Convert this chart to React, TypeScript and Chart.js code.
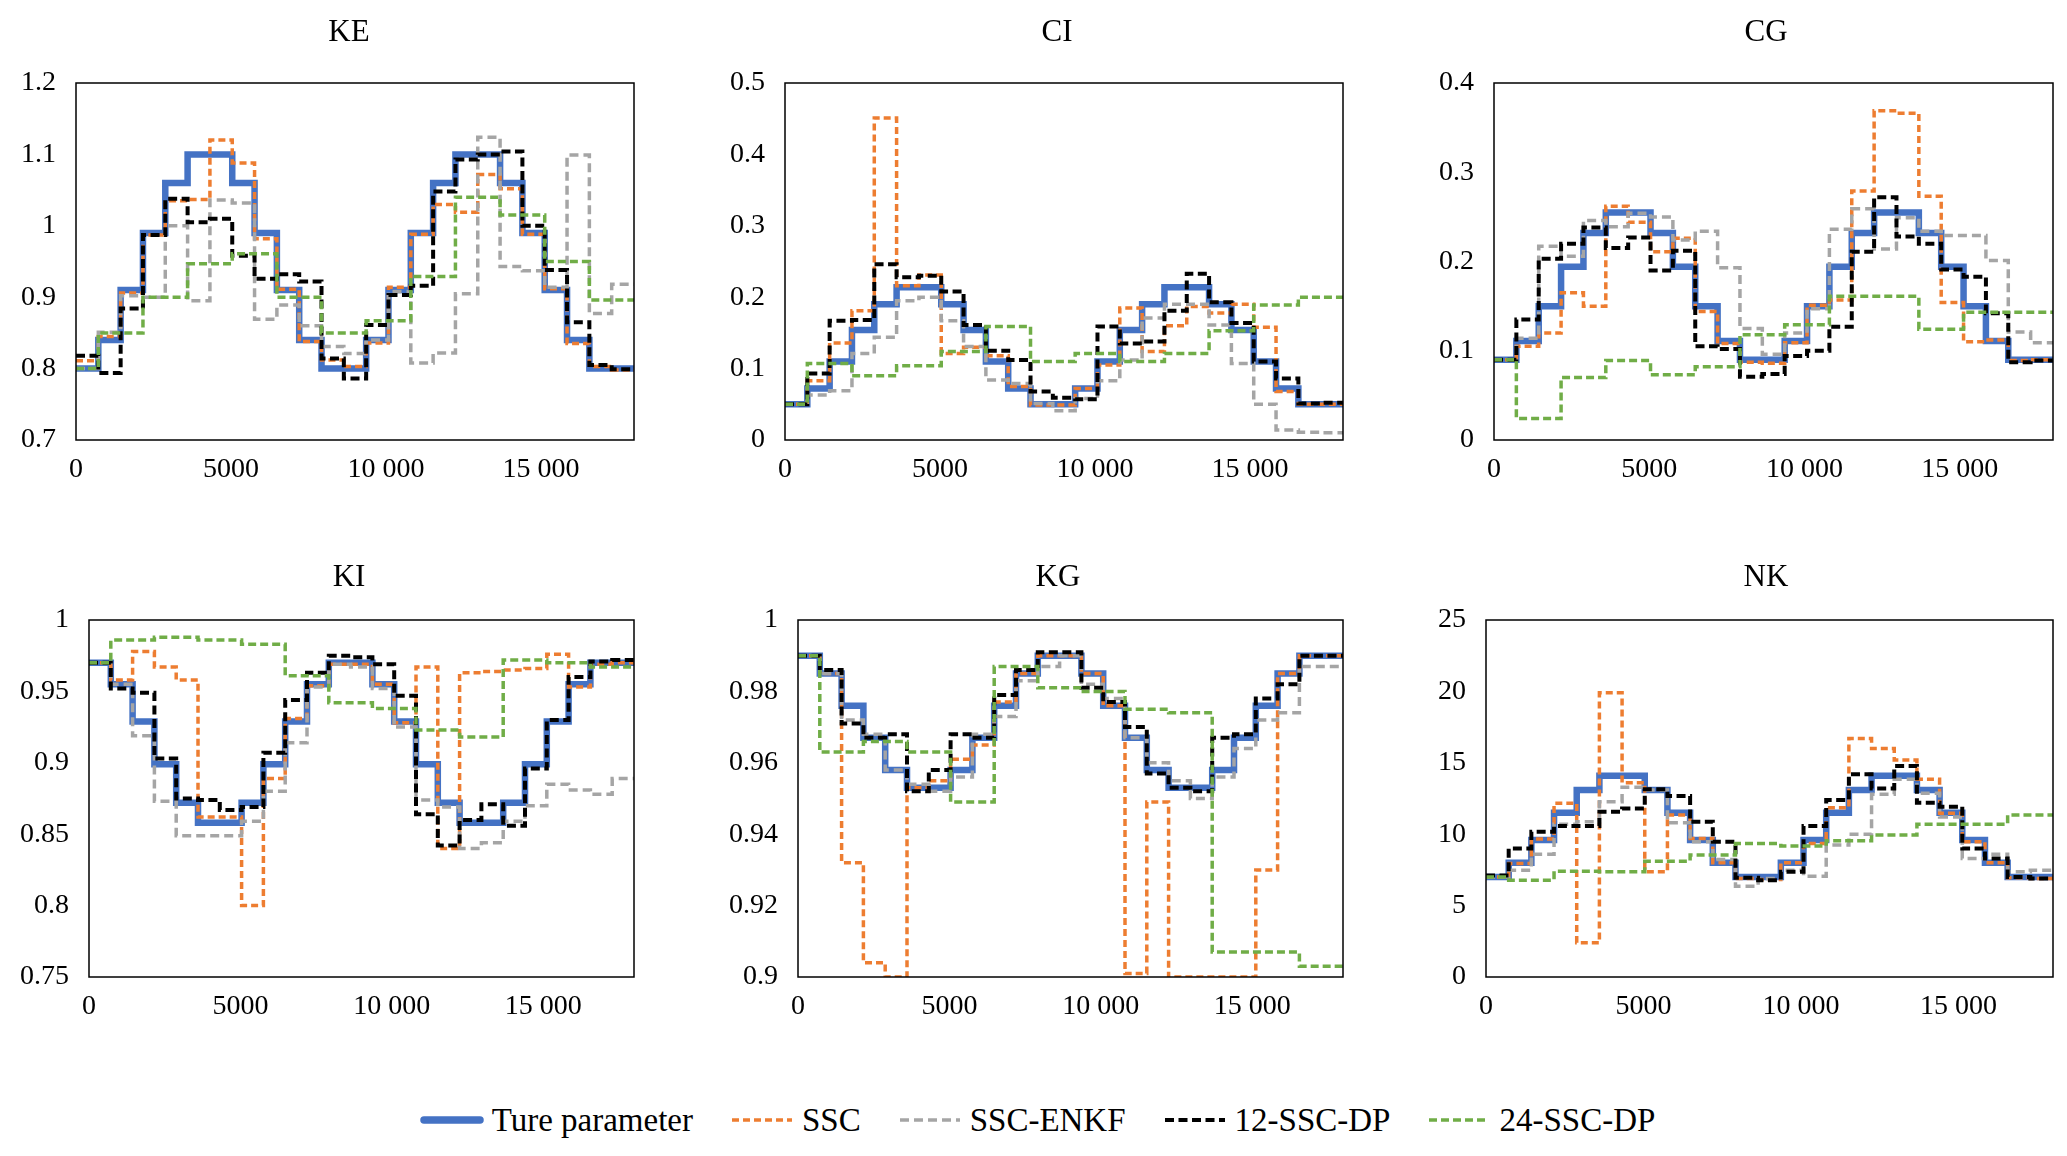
import { useEffect, useRef } from "react"
import { Chart, registerables } from "chart.js"

Chart.register(...registerables)

const FONT = '"Liberation Serif", "Times New Roman", serif'
Chart.defaults.font.family = FONT
Chart.defaults.color = "#000"

// x axis: 25 control intervals of 720 s
const STEP = 720
const X_MAX = 18000
const X_TICKS = [0, 5000, 10000, 15000]

// ---- KE ----
const KE_Y_TICKS = [0.7, 0.8, 0.9, 1, 1.1, 1.2]
const KE_TRUE = [0.8, 0.84, 0.91, 0.99, 1.06, 1.1, 1.1, 1.06, 0.99, 0.91, 0.84, 0.8, 0.8, 0.84, 0.91, 0.99, 1.06, 1.1, 1.1, 1.06, 0.99, 0.91, 0.84, 0.8, 0.8]
const KE_SSC = [0.811, 0.845, 0.906, 0.987, 1.035, 1.037, 1.12, 1.088, 0.982, 0.911, 0.838, 0.812, 0.803, 0.836, 0.914, 0.988, 1.03, 1.019, 1.072, 1.052, 0.988, 0.912, 0.835, 0.803, 0.798]
const KE_ENKF = [0.8, 0.851, 0.902, 0.9, 1.0, 0.895, 1.036, 1.032, 0.869, 0.889, 0.86, 0.831, 0.821, 0.84, 0.908, 0.808, 0.822, 0.905, 1.124, 0.943, 0.937, 0.914, 1.099, 0.877, 0.918]
const KE_DP12 = [0.818, 0.794, 0.884, 0.987, 1.038, 1.005, 1.01, 0.958, 0.926, 0.932, 0.922, 0.814, 0.786, 0.861, 0.903, 0.916, 1.048, 1.093, 1.1, 1.104, 1.0, 0.938, 0.865, 0.805, 0.799]
const KE_DP24 = [0.8, 0.85, 0.85, 0.9, 0.9, 0.947, 0.947, 0.961, 0.961, 0.9, 0.9, 0.85, 0.85, 0.867, 0.867, 0.929, 0.929, 1.04, 1.04, 1.015, 1.015, 0.95, 0.95, 0.896, 0.896]

// ---- CI ----
const CI_Y_TICKS = [0, 0.1, 0.2, 0.3, 0.4, 0.5]
const CI_TRUE = [0.05, 0.072, 0.11, 0.154, 0.19, 0.214, 0.214, 0.19, 0.154, 0.11, 0.072, 0.05, 0.05, 0.072, 0.11, 0.154, 0.19, 0.214, 0.214, 0.19, 0.154, 0.11, 0.072, 0.05, 0.05]
const CI_SSC = [0.05, 0.083, 0.136, 0.181, 0.451, 0.216, 0.231, 0.121, 0.13, 0.118, 0.075, 0.049, 0.049, 0.072, 0.105, 0.185, 0.124, 0.16, 0.187, 0.178, 0.19, 0.158, 0.068, 0.05, 0.05]
const CI_ENKF = [0.05, 0.063, 0.069, 0.121, 0.144, 0.195, 0.2, 0.167, 0.131, 0.084, 0.079, 0.051, 0.041, 0.058, 0.083, 0.112, 0.171, 0.19, 0.19, 0.161, 0.107, 0.05, 0.014, 0.011, 0.01]
const CI_DP12 = [0.05, 0.093, 0.167, 0.168, 0.246, 0.228, 0.23, 0.208, 0.161, 0.125, 0.112, 0.068, 0.059, 0.057, 0.159, 0.135, 0.138, 0.181, 0.233, 0.193, 0.164, 0.11, 0.086, 0.051, 0.052]
const CI_DP24 = [0.05, 0.107, 0.107, 0.09, 0.09, 0.104, 0.104, 0.124, 0.124, 0.159, 0.159, 0.11, 0.11, 0.121, 0.121, 0.11, 0.11, 0.121, 0.121, 0.153, 0.153, 0.189, 0.189, 0.2, 0.2]

// ---- CG ----
const CG_Y_TICKS = [0, 0.1, 0.2, 0.3, 0.4]
const CG_TRUE = [0.09, 0.111, 0.15, 0.194, 0.232, 0.255, 0.255, 0.232, 0.194, 0.15, 0.111, 0.09, 0.09, 0.111, 0.15, 0.194, 0.232, 0.255, 0.255, 0.232, 0.194, 0.15, 0.111, 0.09, 0.09]
const CG_SSC = [0.09, 0.105, 0.12, 0.165, 0.15, 0.262, 0.244, 0.211, 0.226, 0.144, 0.108, 0.087, 0.086, 0.109, 0.151, 0.157, 0.279, 0.369, 0.366, 0.273, 0.154, 0.11, 0.112, 0.089, 0.09]
const CG_ENKF = [0.09, 0.114, 0.217, 0.206, 0.246, 0.239, 0.254, 0.25, 0.224, 0.234, 0.193, 0.125, 0.096, 0.12, 0.147, 0.236, 0.259, 0.214, 0.249, 0.234, 0.229, 0.229, 0.201, 0.121, 0.109]
const CG_DP12 = [0.09, 0.135, 0.203, 0.22, 0.238, 0.215, 0.227, 0.19, 0.212, 0.105, 0.102, 0.071, 0.074, 0.094, 0.1, 0.127, 0.211, 0.272, 0.228, 0.22, 0.191, 0.183, 0.142, 0.087, 0.089]
const CG_DP24 = [0.09, 0.024, 0.024, 0.07, 0.07, 0.089, 0.089, 0.073, 0.073, 0.082, 0.082, 0.118, 0.118, 0.129, 0.129, 0.161, 0.161, 0.161, 0.161, 0.124, 0.124, 0.143, 0.143, 0.143, 0.143]

// ---- KI ----
const KI_Y_TICKS = [0.75, 0.8, 0.85, 0.9, 0.95, 1]
const KI_TRUE = [0.97, 0.955, 0.929, 0.899, 0.872, 0.858, 0.858, 0.872, 0.899, 0.929, 0.955, 0.97, 0.97, 0.955, 0.929, 0.899, 0.872, 0.858, 0.858, 0.872, 0.899, 0.929, 0.955, 0.97, 0.97]
const KI_SSC = [0.97, 0.958, 0.978, 0.967, 0.958, 0.862, 0.862, 0.8, 0.889, 0.931, 0.954, 0.969, 0.969, 0.955, 0.928, 0.967, 0.84, 0.963, 0.964, 0.965, 0.966, 0.976, 0.953, 0.969, 0.97]
const KI_ENKF = [0.97, 0.955, 0.919, 0.873, 0.849, 0.849, 0.849, 0.859, 0.88, 0.914, 0.953, 0.969, 0.967, 0.952, 0.925, 0.874, 0.869, 0.84, 0.844, 0.859, 0.87, 0.885, 0.881, 0.878, 0.889]
const KI_DP12 = [0.97, 0.952, 0.949, 0.903, 0.875, 0.874, 0.867, 0.869, 0.907, 0.944, 0.963, 0.975, 0.974, 0.969, 0.947, 0.864, 0.842, 0.86, 0.871, 0.856, 0.896, 0.93, 0.96, 0.971, 0.972]
const KI_DP24 = [0.97, 0.986, 0.986, 0.988, 0.988, 0.986, 0.986, 0.983, 0.983, 0.961, 0.961, 0.942, 0.942, 0.938, 0.938, 0.923, 0.923, 0.918, 0.918, 0.972, 0.972, 0.97, 0.97, 0.967, 0.967]

// ---- KG ----
const KG_Y_TICKS = [0.9, 0.92, 0.94, 0.96, 0.98, 1]
const KG_TRUE = [0.99, 0.985, 0.976, 0.967, 0.958, 0.953, 0.953, 0.958, 0.967, 0.976, 0.985, 0.99, 0.99, 0.985, 0.976, 0.967, 0.958, 0.953, 0.953, 0.958, 0.967, 0.976, 0.985, 0.99, 0.99]
const KG_SSC = [0.99, 0.985, 0.932, 0.904, 0.9, 0.953, 0.955, 0.961, 0.965, 0.977, 0.985, 0.99, 0.99, 0.985, 0.976, 0.901, 0.949, 0.9, 0.9, 0.9, 0.9, 0.93, 0.985, 0.99, 0.99]
const KG_ENKF = [0.99, 0.985, 0.972, 0.968, 0.958, 0.954, 0.952, 0.956, 0.968, 0.973, 0.983, 0.987, 0.99, 0.982, 0.978, 0.967, 0.96, 0.955, 0.95, 0.956, 0.964, 0.972, 0.974, 0.987, 0.987]
const KG_DP12 = [0.99, 0.986, 0.971, 0.967, 0.968, 0.952, 0.958, 0.968, 0.967, 0.979, 0.986, 0.991, 0.991, 0.981, 0.977, 0.97, 0.957, 0.953, 0.952, 0.967, 0.968, 0.978, 0.982, 0.99, 0.99]
const KG_DP24 = [0.99, 0.963, 0.963, 0.966, 0.966, 0.963, 0.963, 0.949, 0.949, 0.987, 0.987, 0.981, 0.981, 0.98, 0.98, 0.975, 0.975, 0.974, 0.974, 0.907, 0.907, 0.907, 0.907, 0.903, 0.903]

// ---- NK ----
const NK_Y_TICKS = [0, 5, 10, 15, 20, 25]
const NK_TRUE = [7, 8, 9.6, 11.5, 13.1, 14.1, 14.1, 13.1, 11.5, 9.6, 8, 7, 7, 8, 9.6, 11.5, 13.1, 14.1, 14.1, 13.1, 11.5, 9.6, 8, 7, 7]
const NK_SSC = [7, 7.95, 9.66, 12.16, 2.39, 19.9, 13.6, 7.37, 11.34, 9.7, 8.0, 6.9, 6.83, 8.0, 9.35, 11.86, 16.7, 16.0, 15.2, 13.84, 11.46, 9.47, 8.0, 6.95, 6.9]
const NK_ENKF = [7, 7.48, 8.6, 10.7, 10.87, 12.28, 13.28, 13.1, 10.8, 9.47, 8.23, 6.36, 6.9, 7.48, 7.06, 9.24, 10.0, 12.8, 13.84, 12.86, 11.2, 8.3, 8.6, 7.37, 7.48]
const NK_DP12 = [7.1, 9.0, 10.17, 10.57, 10.57, 11.58, 11.8, 13.14, 12.67, 10.87, 9.47, 6.95, 6.78, 7.37, 10.57, 12.4, 14.2, 13.2, 14.78, 12.2, 11.93, 9.0, 8.3, 7.0, 6.9]
const NK_DP24 = [7, 6.78, 6.78, 7.41, 7.41, 7.37, 7.37, 8.1, 8.1, 8.54, 8.54, 9.35, 9.35, 9.17, 9.17, 9.54, 9.54, 9.94, 9.94, 10.7, 10.7, 10.7, 10.7, 11.34, 11.34]

const SERIES = [
  { label: "Ture parameter", color: "#4472C4", width: 6.5, dash: [] as number[] },
  { label: "SSC", color: "#ED7D31", width: 3.5, dash: [7, 4] },
  { label: "SSC-ENKF", color: "#A5A5A5", width: 3.5, dash: [9, 5] },
  { label: "12-SSC-DP", color: "#000000", width: 4, dash: [9, 4.5] },
  { label: "24-SSC-DP", color: "#70AD47", width: 3.5, dash: [8, 4] },
]

const PANELS = [
  { title: "KE", yTicks: KE_Y_TICKS, series: [KE_TRUE, KE_SSC, KE_ENKF, KE_DP12, KE_DP24] },
  { title: "CI", yTicks: CI_Y_TICKS, series: [CI_TRUE, CI_SSC, CI_ENKF, CI_DP12, CI_DP24] },
  { title: "CG", yTicks: CG_Y_TICKS, series: [CG_TRUE, CG_SSC, CG_ENKF, CG_DP12, CG_DP24] },
  { title: "KI", yTicks: KI_Y_TICKS, series: [KI_TRUE, KI_SSC, KI_ENKF, KI_DP12, KI_DP24] },
  { title: "KG", yTicks: KG_Y_TICKS, series: [KG_TRUE, KG_SSC, KG_ENKF, KG_DP12, KG_DP24] },
  { title: "NK", yTicks: NK_Y_TICKS, series: [NK_TRUE, NK_SSC, NK_ENKF, NK_DP12, NK_DP24] },
]

// plot-area rectangles on the page, and title centre
const LAYOUT = [
  { left: 76, top: 83, right: 634, bottom: 440, titleX: 349, titleY: 33 },
  { left: 785, top: 83, right: 1343, bottom: 440, titleX: 1057, titleY: 33 },
  { left: 1494, top: 83, right: 2053, bottom: 440, titleX: 1766, titleY: 33 },
  { left: 89, top: 620, right: 634, bottom: 977, titleX: 349, titleY: 578 },
  { left: 798, top: 620, right: 1343, bottom: 977, titleX: 1058, titleY: 578 },
  { left: 1486, top: 620, right: 2053, bottom: 977, titleX: 1766, titleY: 578 },
]

const Y_AXIS_W = 70
const X_AXIS_H = 50
const TOP_PAD = 83
const RIGHT_PAD = 10

function toPoints(values: number[]) {
  const pts = values.map((y, i) => ({ x: i * STEP, y }))
  pts.push({ x: values.length * STEP, y: values[values.length - 1] })
  return pts
}

function fmtX(v: number) {
  if (v >= 10000) return `${Math.floor(v / 1000)} ${String(v % 1000).padStart(3, "0")}`
  return String(v)
}

type PanelDef = (typeof PANELS)[number]
type Box = (typeof LAYOUT)[number]

function Panel({ panel, box }: { panel: PanelDef; box: Box }) {
  const chartRef = useRef<HTMLCanvasElement>(null)

  const cLeft = box.left - Y_AXIS_W
  const cTop = box.top - TOP_PAD
  const cWidth = Y_AXIS_W + (box.right - box.left) + RIGHT_PAD
  const cHeight = TOP_PAD + (box.bottom - box.top) + X_AXIS_H

  useEffect(() => {
    if (!chartRef.current) return
    const ctx = chartRef.current.getContext("2d")
    if (!ctx) return

    const yMin = panel.yTicks[0]
    const yMax = panel.yTicks[panel.yTicks.length - 1]

    // box frame + panel title
    const framePlugin = {
      id: "frame",
      afterDatasetsDraw(chart: Chart) {
        const { ctx: c, chartArea: a } = chart
        c.save()
        c.strokeStyle = "#000"
        c.lineWidth = 1.5
        c.strokeRect(a.left, a.top, a.right - a.left, a.bottom - a.top)
        c.fillStyle = "#000"
        c.font = `31px ${FONT}`
        c.textAlign = "center"
        c.textBaseline = "middle"
        c.fillText(panel.title, box.titleX - cLeft, box.titleY - cTop)
        c.restore()
      },
    }

    const chart = new Chart(ctx, {
      type: "line",
      data: {
        datasets: SERIES.map((s, i) => ({
          label: s.label,
          data: toPoints(panel.series[i]),
          borderColor: s.color,
          backgroundColor: s.color,
          borderWidth: s.width,
          borderDash: s.dash,
          borderCapStyle: "butt" as const,
          borderJoinStyle: "miter" as const,
          stepped: true,
          pointRadius: 0,
          fill: false,
          order: SERIES.length - i,
        })),
      },
      options: {
        animation: false,
        responsive: true,
        maintainAspectRatio: false,
        layout: { padding: { top: TOP_PAD, right: RIGHT_PAD, left: 0, bottom: 0 } },
        plugins: {
          legend: { display: false },
          tooltip: { enabled: false },
          title: { display: false },
        },
        scales: {
          x: {
            type: "linear",
            min: 0,
            max: X_MAX,
            grid: { display: false, drawTicks: false },
            border: { display: false },
            afterBuildTicks: (s: any) => {
              s.ticks = X_TICKS.map((v) => ({ value: v }))
            },
            afterFit: (s: any) => {
              s.height = X_AXIS_H
            },
            ticks: {
              padding: 13,
              autoSkip: false,
              maxRotation: 0,
              color: "#000",
              font: { size: 28 },
              callback: (v: any) => fmtX(Number(v)),
            },
          },
          y: {
            type: "linear",
            min: yMin,
            max: yMax,
            grid: { display: false, drawTicks: false },
            border: { display: false },
            afterBuildTicks: (s: any) => {
              s.ticks = panel.yTicks.map((v) => ({ value: v }))
            },
            afterFit: (s: any) => {
              s.width = Y_AXIS_W
            },
            ticks: {
              padding: 20,
              autoSkip: false,
              color: "#000",
              font: { size: 28 },
              callback: (v: any) => String(v),
            },
          },
        },
      },
      plugins: [framePlugin],
    })

    return () => {
      chart.destroy()
    }
  }, [panel, box])

  return (
    <div style={{ position: "absolute", left: cLeft, top: cTop, width: cWidth, height: cHeight }}>
      <canvas ref={chartRef} />
    </div>
  )
}

function Legend() {
  return (
    <div
      style={{
        position: "absolute",
        left: 0,
        top: 1100,
        width: 2067,
        height: 40,
        display: "flex",
        justifyContent: "center",
        alignItems: "center",
        gap: 37,
        paddingLeft: 8,
        boxSizing: "border-box",
        fontFamily: FONT,
        fontSize: 33,
        lineHeight: "40px",
        color: "#000",
      }}
    >
      {SERIES.map((s) => (
        <div key={s.label} style={{ display: "flex", alignItems: "center" }}>
          <svg width={64} height={14} style={{ marginRight: 8 }}>
            <line
              x1={s.dash.length ? 2 : 4}
              y1={7}
              x2={s.dash.length ? 62 : 60}
              y2={7}
              stroke={s.color}
              strokeWidth={s.dash.length ? s.width : s.width + 1}
              strokeDasharray={s.dash.length ? s.dash.join(" ") : undefined}
              strokeLinecap={s.dash.length ? "butt" : "round"}
            />
          </svg>
          <span>{s.label}</span>
        </div>
      ))}
    </div>
  )
}

export default function App() {
  return (
    <div style={{ position: "absolute", left: 0, top: 0, width: 2067, height: 1156, background: "#fff" }}>
      {PANELS.map((p, i) => (
        <Panel key={p.title} panel={p} box={LAYOUT[i]} />
      ))}
      <Legend />
    </div>
  )
}
